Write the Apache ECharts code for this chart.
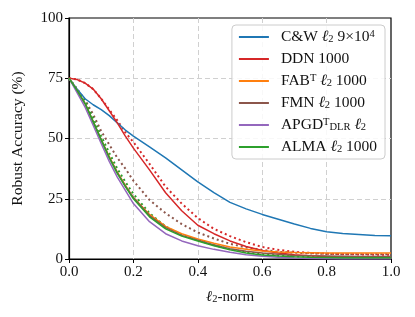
<!DOCTYPE html>
<html><head><meta charset="utf-8">
<script src="https://cdn.jsdelivr.net/npm/echarts@6/dist/echarts.min.js"></script>
<style>html,body{margin:0;padding:0;background:#fff}#c{width:415px;height:317px}</style>
</head><body><div id="c"></div>
<script>
var eps = [0,0.025,0.05,0.075,0.1,0.125,0.15,0.175,0.2,0.25,0.3,0.35,0.4,0.45,0.5,0.55,0.6,0.65,0.7,0.75,0.8,0.85,0.9,0.95,1.0];
var cw    = [75,70.5,66.5,64,62,59.5,56.5,53.5,51,46.5,42,37,32,27.5,23.5,20.8,18.5,16.5,14.5,12.7,11.3,10.6,10.2,9.8,9.6];
var ddn   = [75,74.5,73,70.5,66.5,61.5,56.5,51,46,37,27.5,20,14,10.5,7.5,5.2,3.5,2.5,1.8,1.3,1.0,0.8,0.7,0.6,0.5];
var ddnB  = [75,74.5,73,70.5,66.5,62,57.5,52.5,48.5,39.5,30,23,17,12.5,9.5,7,5,3.8,3,2.5,2.2,2,1.9,1.8,1.8];
var fab   = [75,70,64.5,57,49.5,42.5,36,30.5,25.5,18.5,13.5,10.5,8.3,6.5,5,4,3.3,2.9,2.7,2.6,2.5,2.5,2.5,2.5,2.5];
var fmn   = [75,70,64.5,57,49.5,42.2,35.8,30.3,25.5,18,13,9.8,7.8,5.8,4.3,3.2,2.5,2,1.5,1.3,1.2,1.1,1.0,1.0,1.0];
var fmnB  = [75,70.5,66,60,53,47.5,42,37.5,32.5,24.5,19,14.5,11,8.5,6.3,4.8,3.8,3.0,2.6,2.3,2.1,2.0,2.0,2.0,2.0];
var apgd  = [75,69,63,55.5,48,40.5,34,28.5,23,15.5,10.5,7.5,5.5,4,2.8,1.8,1.1,0.7,0.4,0.2,0.1,0,0,0,0];
var alma  = [75,70,64.5,57,49.5,42,35.5,30,25,17.5,12.5,9.5,7.5,5.5,3.8,2.5,1.7,1.2,0.9,0.7,0.6,0.5,0.5,0.5,0.5];
var almaB = [75,70.5,65.5,58.5,51,44,37.5,32,27,19,13.5,10,7.8,5.8,4,2.8,2,1.4,1.1,0.9,0.8,0.7,0.7,0.7,0.7];
var xTicks = [0,0.2,0.4,0.6,0.8,1.0];
var yTicks = [0,25,50,75,100];

function pts(a){ return eps.map(function(x,i){ return [x,a[i]]; }); }
var F = 'Liberation Serif';
var FS = 15;
var LFS = 15.5;
var solid = function(name,color,data){ return {name:name,type:'line',data:pts(data),showSymbol:false,symbol:'none',lineStyle:{color:color,width:1.5},itemStyle:{color:color},animation:false,z:3}; };
var dotted = function(name,color,data){ return {name:name,type:'line',data:pts(data),showSymbol:false,symbol:'none',lineStyle:{color:color,width:2,type:[2,3]},itemStyle:{color:color},animation:false,z:2}; };

var labels = {
 'CW':'{n|C&W }{it|ℓ}{sub|2}{n| 9×10}{sup|4}',
 'DDN':'{n|DDN 1000}',
 'FAB':'{n|FAB}{sup|T}{n| }{it|ℓ}{sub|2}{n| 1000}',
 'FMN':'{n|FMN }{it|ℓ}{sub|2}{n| 1000}',
 'APGD':'{n|APGD}{supsub|T}{sub2|DLR}{n| }{it|ℓ}{sub|2}',
 'ALMA':'{n|ALMA }{it|ℓ}{sub|2}{n| 1000}'
};
function mkRich(fs){ return {
 n:{fontFamily:F,fontSize:fs,color:'#111'},
 it:{fontFamily:F,fontSize:fs,color:'#111',fontStyle:'italic'},
 sub:{fontFamily:F,fontSize:10.5,color:'#111',verticalAlign:'bottom',padding:[5,0,0,0]},
 sub2:{fontFamily:F,fontSize:10.5,color:'#111',verticalAlign:'bottom',padding:[6,0,0,0]},
 sup:{fontFamily:F,fontSize:10.5,color:'#111',verticalAlign:'top',padding:[0,0,6,0]},
 supsub:{fontFamily:F,fontSize:10.5,color:'#111',verticalAlign:'top',padding:[0,0,6,0]}
}; }

var chart = echarts.init(document.getElementById('c'),null,{renderer:'canvas'});
chart.setOption({
 animation:false,
 backgroundColor:'#fff',
 grid:{left:69,right:24,top:18,bottom:58,show:true,borderColor:'#000',borderWidth:1.2,backgroundColor:'transparent'},
 xAxis:{type:'value',min:0,max:1,interval:0.2,
   name:'{it|ℓ}{sub|2}{n|-norm}',nameLocation:'middle',nameGap:30,
   nameTextStyle:{rich:mkRich(FS)},
   axisLine:{show:true,lineStyle:{color:'#000',width:1.2}},
   axisTick:{show:true,length:4,lineStyle:{color:'#000'}},
   axisLabel:{fontFamily:F,fontSize:FS,color:'#111',margin:6,formatter:function(v){return v.toFixed(1);}},
   splitLine:{show:true,showMinLine:false,showMaxLine:false,lineStyle:{color:'#d0d0d0',type:[5,3],width:1}}},
 yAxis:{type:'value',min:0,max:100,interval:25,
   name:'Robust Accuracy (%)',nameLocation:'middle',nameGap:43,
   nameTextStyle:{fontFamily:F,fontSize:15.5,color:'#111'},
   axisLine:{show:true,lineStyle:{color:'#000',width:1.2}},
   axisTick:{show:true,length:4,lineStyle:{color:'#000'}},
   axisLabel:{fontFamily:F,fontSize:FS,color:'#111',margin:6},
   splitLine:{show:true,showMinLine:false,showMaxLine:false,lineStyle:{color:'#d0d0d0',type:[5,3],width:1}}},
 legend:{data:['CW','DDN','FAB','FMN','APGD','ALMA'],orient:'vertical',right:30,top:25,
   itemWidth:30,itemHeight:2,itemGap:6,icon:'rect',
   backgroundColor:'rgba(255,255,255,0.85)',borderColor:'#cccccc',borderWidth:1,borderRadius:4,padding:[4,8,4,7],
   formatter:function(n){return labels[n];},
   textStyle:{rich:mkRich(LFS),fontFamily:F,fontSize:LFS,lineHeight:16,padding:[0,0,0,7]}},
 series:[
  solid('CW','#1f77b4',cw),
  dotted('DDNb','#d62728',ddnB),
  solid('DDN','#d62728',ddn),
  solid('FAB','#ff7f0e',fab),
  dotted('FMNb','#8c564b',fmnB),
  solid('FMN','#8c564b',fmn),
  solid('APGD','#9467bd',apgd),
  dotted('ALMAb','#2ca02c',almaB),
  solid('ALMA','#2ca02c',alma)
 ]
});
</script></body></html>
